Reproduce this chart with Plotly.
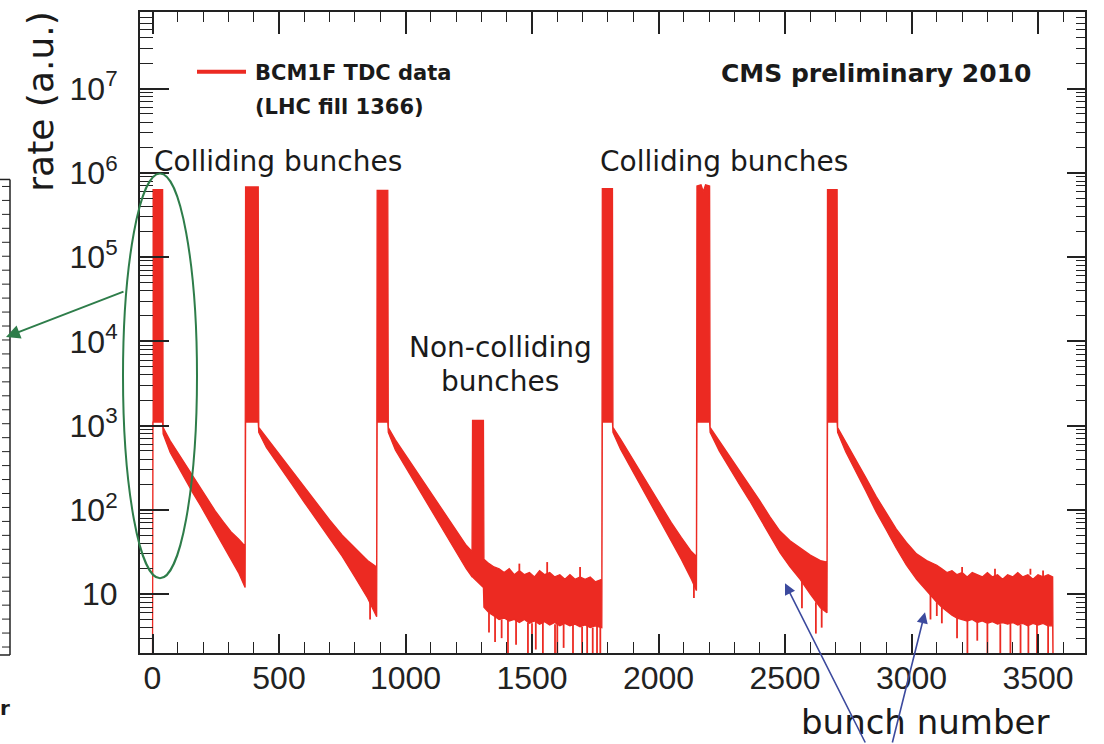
import math
import plotly.graph_objects as go

# ---------------- data ----------------
# rate band (upper / lower envelope of the noisy histogram) versus bunch number
BUNCH = [0, 2, 40, 42, 70, 100, 130, 160, 190, 220, 250, 280, 310, 340, 366,
         368, 418, 420, 450, 500, 550, 600, 650, 700, 750, 800, 850, 886,
         888, 930, 932, 960, 1000, 1040, 1080, 1120, 1160, 1200, 1240, 1263,
         1265, 1308, 1310, 1330, 1350, 1370, 1390, 1410, 1430, 1450, 1470, 1490,
         1510, 1530, 1550, 1570, 1590, 1610, 1630, 1650, 1670, 1690, 1710, 1730,
         1750, 1776,
         1778, 1818, 1820, 1850, 1890, 1930, 1970, 2010, 2050, 2090, 2130, 2150,
         2152, 2168, 2177, 2186, 2202, 2204, 2240, 2280, 2320, 2360, 2400, 2440,
         2480, 2520, 2560, 2600, 2640, 2666,
         2668, 2706, 2708, 2740, 2780, 2820, 2860, 2900, 2940, 2980, 3020, 3060,
         3100, 3120, 3140, 3160, 3180, 3200, 3220, 3240, 3260, 3280, 3300, 3320,
         3340, 3360, 3380, 3400, 3420, 3440, 3460, 3480, 3500, 3520, 3540, 3558,
         3560]
UPPER = [6.3e5, 6.3e5, 6.3e5, 950, 661, 479, 347, 251, 178, 129, 95, 72, 55, 45, 37,
         6.8e5, 6.8e5, 950, 724, 468, 295, 186, 117, 76, 50, 35, 25, 21,
         6.2e5, 6.2e5, 950, 676, 447, 295, 195, 129, 85, 56, 38, 32,
         1150, 1150, 26, 23, 21, 20, 18, 20, 17, 19, 17, 18,
         16, 19, 17, 18, 16, 17, 15, 17, 15, 16, 15, 16,
         14, 15,
         6.5e5, 6.5e5, 950, 692, 437, 275, 174, 110, 71, 47, 32, 28,
         7.0e5, 7.2e5, 6.0e5, 7.2e5, 7.0e5, 950, 661, 437, 288, 195, 129, 83,
         56, 43, 35, 29, 25, 24,
         6.3e5, 6.3e5, 950, 646, 389, 240, 145, 91, 59, 41, 30, 25,
         22, 20, 18, 19, 17, 18, 16, 18, 17, 16, 18, 16,
         17, 15, 17, 16, 18, 16, 17, 15, 17, 16, 17, 16,
         1]
LOWER = [1, 1100, 1100, 800, 479, 331, 229, 158, 112, 78, 55, 38, 26, 18, 12,
         1100, 1100, 830, 550, 339, 204, 123, 74, 46, 28, 16, 9, 5.4,
         1100, 1100, 830, 513, 324, 204, 129, 81, 51, 32, 20, 16,
         16, 12, 7, 6, 5.5, 5, 5.2, 4.8, 5, 4.6, 5, 4.5,
         4.8, 4.4, 4.7, 4.3, 4.6, 4.2, 4.5, 4.2, 4.4, 4.1, 4.3, 4,
         4.2, 4,
         1100, 1100, 830, 525, 316, 191, 115, 69, 43, 26, 15, 11,
         1100, 1100, 1100, 1100, 1100, 830, 501, 316, 200, 129, 81, 50,
         31, 21, 15, 10, 6.9, 6,
         1100, 1100, 830, 490, 282, 166, 95, 58, 35, 22, 15, 11,
         8, 7, 6.2, 5.6, 5.2, 5, 4.8, 5, 4.6, 4.8, 4.5, 4.7,
         4.4, 4.6, 4.4, 4.6, 4.3, 4.5, 4.2, 4.5, 4.3, 4.5, 4.2, 4.2,
         1]

# individual noise spikes (bunch, from value, to value); 1 = below the axis
SPIKE_BUNCH = [860, 1330, 1354, 1380, 1405, 1437, 1450, 1484, 1500, 1515, 1543, 1560,
               1591, 1600, 1625, 1662, 1690, 1698, 1718, 1740, 1757, 1770, 2140, 2567,
               2622, 2645, 3075, 3100, 3120, 3180, 3200, 3221, 3260, 3300, 3330, 3351,
               3391, 3431, 3462, 3470, 3496, 3520, 3540]
SPIKE_FROM = [9, 6, 5.5, 5, 5, 5, 19, 4.6, 4.5, 4.8, 4.6, 17,
              4.4, 4.5, 4.4, 4.3, 16, 4.1, 4.2, 4, 4.2, 4.1, 14, 15,
              8, 6.9, 10, 8, 7, 5.2, 18, 4.8, 4.6, 4.5, 16, 4.4,
              4.5, 4.3, 4.2, 17, 4.4, 16, 4.2]
SPIKE_TO = [5, 3.5, 2.7, 3, 1, 2.5, 23, 1, 1, 2.2, 1, 24,
            1, 1, 2.3, 1, 21, 1, 1, 2, 1, 1, 9, 6.8,
            3.4, 4, 5, 5.5, 4.5, 3, 21, 1, 2.8, 1, 20, 1,
            1, 1, 1, 20, 1, 19, 1]

X_TICKS = [0, 500, 1000, 1500, 2000, 2500, 3000, 3500]
Y_TICKS = [10, 100, 1000, 1e4, 1e5, 1e6, 1e7]
Y_TICKTEXT = ["10", "10<sup>2</sup>", "10<sup>3</sup>", "10<sup>4</sup>",
              "10<sup>5</sup>", "10<sup>6</sup>", "10<sup>7</sup>"]

RED = "#EC2A22"
GREEN = "#2E7D4A"
BLUE = "#3C4A9E"
INK = "#222"

# ---------------- layout helpers (pixel -> paper) ----------------
L, R, T, B = 140, 1085, 10, 653


def pp(xp, yp):
    return (xp - L) / (R - L), (B - yp) / (B - T)


fig = go.Figure()

poly_x = BUNCH + BUNCH[::-1]
poly_y = UPPER + LOWER[::-1]
fig.add_trace(go.Scatter(x=poly_x, y=poly_y, mode="lines", fill="toself",
                         fillcolor=RED, line=dict(color=RED, width=1.3),
                         hoverinfo="skip", showlegend=False))

sx, sy = [], []
for b, f, t in zip(SPIKE_BUNCH, SPIKE_FROM, SPIKE_TO):
    sx += [b, b, None]
    sy += [f, t, None]
fig.add_trace(go.Scatter(x=sx, y=sy, mode="lines", line=dict(color=RED, width=1.8),
                         hoverinfo="skip", showlegend=False))

# empty trace so the top / right tick axes exist
fig.add_trace(go.Scatter(x=[None], y=[None], xaxis="x2", yaxis="y2", mode="lines",
                         hoverinfo="skip", showlegend=False))

minor_y = []
for d in range(0, 8):
    for k in range(2, 10):
        v = k * 10 ** d
        if 2 <= v <= 8e7 and v not in Y_TICKS:
            minor_y.append(v)

xr0 = (L - 152.5) / 0.253
xr1 = (R - 152.5) / 0.253
yr = [math.log10(2), 7.909]

fig.update_layout(
    width=1104, height=744,
    margin=dict(l=L, r=1104 - R, t=T, b=744 - B),
    paper_bgcolor="white", plot_bgcolor="white",
    xaxis=dict(range=[xr0, xr1], tickmode="array", tickvals=X_TICKS,
               ticks="inside", ticklen=19, tickwidth=1.5, tickcolor=INK,
               minor=dict(dtick=100, ticks="inside", ticklen=11, tickwidth=1.3,
                          tickcolor=INK, showgrid=False),
               showline=True, linewidth=2, linecolor=INK, mirror=True,
               showgrid=False, zeroline=False,
               tickfont=dict(family="Liberation Sans, Arial", size=32, color=INK),
               ticklabelstandoff=-4),
    yaxis=dict(type="log", range=yr, tickmode="array",
               tickvals=Y_TICKS, ticktext=Y_TICKTEXT,
               ticks="inside", ticklen=29, tickwidth=1.5, tickcolor=INK,
               minor=dict(tickmode="array", tickvals=minor_y, ticks="inside",
                          ticklen=13, tickwidth=1.3, tickcolor=INK, showgrid=False),
               showline=True, linewidth=2, linecolor=INK, mirror=True,
               showgrid=False, zeroline=False,
               tickfont=dict(family="Liberation Sans, Arial", size=32, color=INK),
               ticklabelstandoff=14),
    xaxis2=dict(overlaying="x", side="top", anchor="y2", range=[xr0, xr1],
                tickmode="array", tickvals=X_TICKS, ticks="inside", ticklen=22,
                tickwidth=1.5, tickcolor=INK, showticklabels=False,
                minor=dict(dtick=100, ticks="inside", ticklen=10, tickwidth=1.3,
                           tickcolor=INK, showgrid=False),
                showline=False, showgrid=False, zeroline=False),
    yaxis2=dict(overlaying="y", side="right", anchor="x2", type="log", range=yr,
                tickmode="array", tickvals=Y_TICKS, ticks="inside", ticklen=18,
                tickwidth=1.5, tickcolor=INK, showticklabels=False,
                minor=dict(tickmode="array", tickvals=minor_y, ticks="inside",
                           ticklen=9, tickwidth=1.3, tickcolor=INK, showgrid=False),
                showline=False, showgrid=False, zeroline=False),
)

ann = []


def text(t, xp, yp, size, bold=False, xanchor="center", angle=0, family="DejaVu Sans"):
    x, y = pp(xp, yp)
    ann.append(dict(text=("<b>%s</b>" % t) if bold else t, x=x, y=y, xref="paper",
                    yref="paper", xanchor=xanchor, yanchor="middle", showarrow=False,
                    textangle=angle, font=dict(family=family, size=size, color="#1a1a1a")))


text("Colliding bunches", 278, 160, 28)
text("Colliding bunches", 724, 160, 28)
text("Non-colliding", 500, 347, 28)
text("bunches", 500, 381, 28)
text("CMS preliminary 2010", 876, 72, 25, bold=True)
text("BCM1F TDC data", 253, 71, 21, bold=True, xanchor="left")
text("(LHC fill 1366)", 253, 105, 21, bold=True, xanchor="left")
text("rate (a.u.)", 41, 100, 36, angle=-90)
text("bunch number", 925, 722, 34)
text("r", 5, 708, 20, bold=True)


def arrow(tip, tail, color, width, size):
    x, y = pp(*tip)
    ann.append(dict(text="", x=x, y=y, xref="paper", yref="paper", showarrow=True,
                    ax=tail[0] - tip[0], ay=tail[1] - tip[1], arrowhead=2,
                    arrowsize=size, arrowwidth=width, arrowcolor=color))


arrow((6, 336), (125, 290), GREEN, 2, 1.4)
arrow((785, 583), (866, 746), BLUE, 1.6, 1.4)
arrow((925, 612), (892, 746), BLUE, 1.6, 1.4)

fig.update_layout(annotations=ann)

shapes = []
# legend line
x0, y0 = pp(197, 70)
x1, _ = pp(246, 70)
shapes.append(dict(type="line", xref="paper", yref="paper", x0=x0, x1=x1, y0=y0, y1=y0,
                   line=dict(color=RED, width=4)))
# green ellipse
ex0, ey0 = pp(123, 578)
ex1, ey1 = pp(197, 172)
shapes.append(dict(type="circle", xref="paper", yref="paper", x0=ex0, x1=ex1, y0=ey0,
                   y1=ey1, line=dict(color=GREEN, width=2)))
# partial neighbouring panel at the left edge
fx0, fy0 = pp(0, 655)
fx1, fy1 = pp(10, 178)
shapes.append(dict(type="line", xref="paper", yref="paper", x0=fx1, x1=fx1, y0=fy0, y1=fy1,
                   line=dict(color=INK, width=1.5)))
shapes.append(dict(type="line", xref="paper", yref="paper", x0=fx0, x1=fx1, y0=fy0, y1=fy0,
                   line=dict(color=INK, width=1.5)))
shapes.append(dict(type="line", xref="paper", yref="paper", x0=fx0, x1=fx1, y0=fy1, y1=fy1,
                   line=dict(color=INK, width=1.5)))
yy = 185
while yy < 652:
    tx0, ty = pp(2, yy)
    shapes.append(dict(type="line", xref="paper", yref="paper", x0=tx0, x1=fx1, y0=ty, y1=ty,
                       line=dict(color=INK, width=1)))
    yy += 14
fig.update_layout(shapes=shapes)

fig.write_html("out.html")
